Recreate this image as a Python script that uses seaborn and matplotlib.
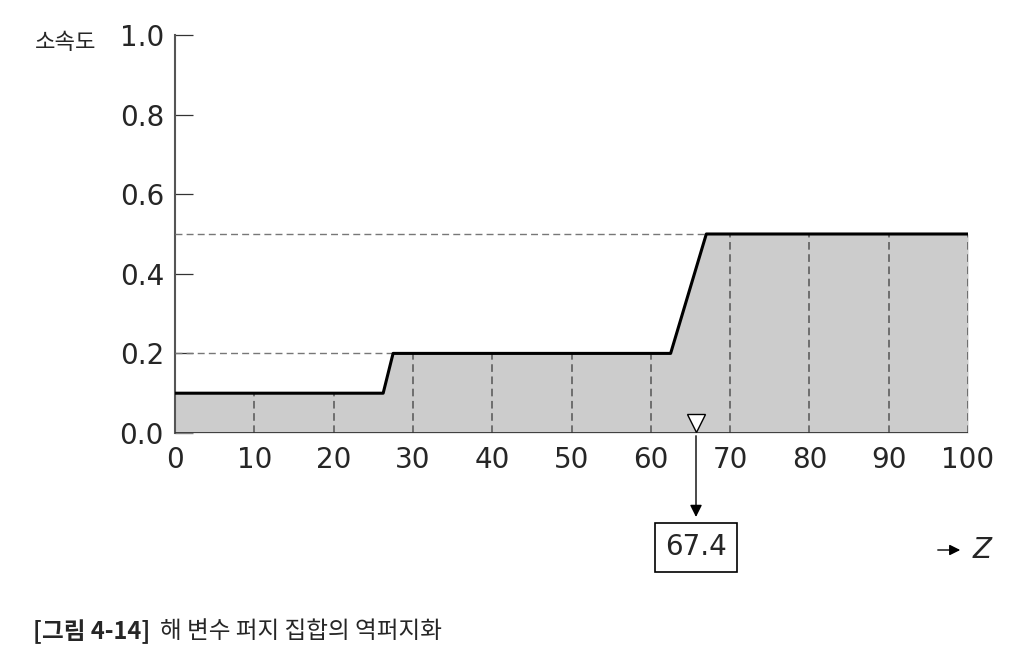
import numpy as np
import pandas as pd
import seaborn as sns
import matplotlib.pyplot as plt

sns.set_style("white")
plt.rcParams['font.family'] = ['DejaVu Sans', 'Noto Sans CJK KR']

# aggregated membership function (clipped output fuzzy set)
z_points = [0, 26.25, 27.5, 62.5, 67, 100]
mu_points = [0.1, 0.1, 0.2, 0.2, 0.5, 0.5]
grid_z = [10, 20, 30, 40, 50, 60, 70, 80, 90, 100]
level_mu = [0.2, 0.5]
level_end = [27.5, 67]
centroid_pos = 65.7
centroid_label = "67.4"
x_ticks = [0, 10, 20, 30, 40, 50, 60, 70, 80, 90, 100]
y_ticks = [0.0, 0.2, 0.4, 0.6, 0.8, 1.0]

df = pd.DataFrame({"z": z_points, "mu": mu_points})

fig = plt.figure(figsize=(10.16, 6.7), dpi=100)
ax = fig.add_axes([175 / 1016, (670 - 433) / 670, 793 / 1016, 398 / 670])

ax.fill_between(df["z"], 0, df["mu"], color="#cccccc", lw=0, zorder=1)
sns.lineplot(data=df, x="z", y="mu", color="black", lw=2.2, ax=ax, zorder=4)

# dashed guides
grid_mu = np.interp(grid_z, z_points, mu_points)
ax.vlines(grid_z, 0, grid_mu, colors="#555555", linestyles=(0, (5, 3)), lw=1.1, zorder=3)
for m, e in zip(level_mu, level_end):
    ax.hlines(m, 0, e, colors="#777777", linestyles=(0, (5, 3)), lw=1.0, zorder=3)
ax.hlines(0, 0, 100, colors="#333333", lw=1.3, zorder=3)

ax.set_xlim(0, 100)
ax.set_ylim(0, 1.0)
ax.set_xticks(x_ticks)
ax.set_yticks(y_ticks)
ax.set_yticklabels([f"{v:.1f}" for v in y_ticks])
ax.tick_params(axis="y", direction="in", length=13, width=0.9, color="#333333",
               labelsize=20, pad=8, left=True)
ax.tick_params(axis="x", length=0, labelsize=20, pad=9)
ax.set_xlabel("")
ax.set_ylabel("")
for s in ["top", "right", "bottom"]:
    ax.spines[s].set_visible(False)
ax.spines["left"].set_color("#555555")
ax.spines["left"].set_linewidth(1.5)

# centroid marker, arrow and result box
ax.plot([centroid_pos], [0.025], marker="v", markersize=13, mfc="white", mec="black",
        mew=1.0, clip_on=False, zorder=6)
ax.annotate("", xy=(centroid_pos, -0.218), xytext=(centroid_pos, 0),
            arrowprops=dict(arrowstyle="-|>", color="black", lw=1.0, mutation_scale=18),
            annotation_clip=False)
ax.text(centroid_pos, -0.287, centroid_label, ha="center", va="center", fontsize=20,
        bbox=dict(boxstyle="square,pad=0.38", fc="white", ec="black", lw=1.2),
        clip_on=False)

fig.text(35 / 1016, (670 - 43) / 670, "소속도", fontsize=16, va="center", ha="left")

ax.annotate("", xy=(963 / 1016, (670 - 550) / 670), xytext=(935 / 1016, (670 - 550) / 670),
            xycoords="figure fraction",
            arrowprops=dict(arrowstyle="-|>", color="black", lw=1.0, mutation_scale=16))
fig.text(973 / 1016, (670 - 550) / 670, "Z", fontsize=20, style="italic", va="center", ha="left")

fig.text(33 / 1016, (670 - 632) / 670, "[그림 4-14]", fontsize=17, fontweight="bold",
         va="center", ha="left", family=["Noto Sans CJK KR"])
fig.text(160 / 1016, (670 - 632) / 670, "해 변수 퍼지 집합의 역퍼지화", fontsize=17,
         va="center", ha="left", family=["Noto Sans CJK KR"])

fig.savefig("out.png", dpi=100)
